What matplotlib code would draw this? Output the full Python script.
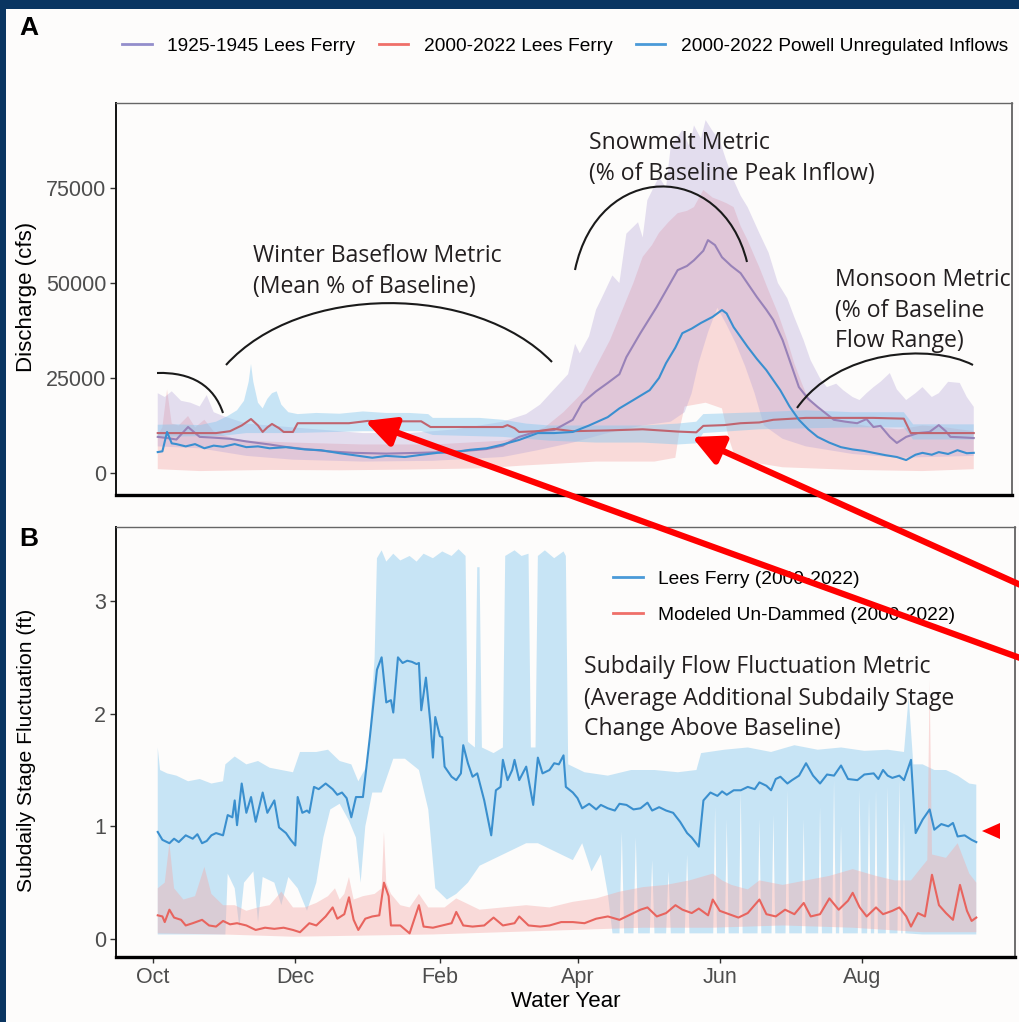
import numpy as np
import matplotlib
matplotlib.use("Agg")
import matplotlib.pyplot as plt
from matplotlib.lines import Line2D
from matplotlib.patches import PathPatch, FancyArrowPatch, Polygon, Rectangle
from matplotlib.path import Path

plt.rcParams['font.family'] = ['Liberation Sans', 'DejaVu Sans']

# ---------------- DATA (x = day of water year, 0 = Oct 1) ----------------
month_ticks = [0, 61, 123, 182, 243, 304]
month_labels = ['Oct', 'Dec', 'Feb', 'Apr', 'Jun', 'Aug']

# Panel A: 1925-1945 Lees Ferry mean (purple)
purple_d = [2, 6, 10, 15, 20, 26, 33, 40, 50, 57, 65, 75, 86, 100, 114, 130, 143, 150, 157, 165, 172, 180,
            184, 190, 195, 200, 203, 209, 216, 220, 225, 229, 232, 236, 238, 241, 244, 248, 252, 256, 259,
            263, 266, 270, 273, 277, 281, 285, 292, 297, 302, 306, 309, 312, 316, 319, 323, 328, 333, 337,
            340, 342, 346, 352]
purple_v = [9500, 9200, 8800, 12100, 9500, 9300, 9000, 8300, 7500, 6850, 6300, 5700, 5300, 5100, 5300, 5600,
            6300, 7200, 9500, 11000, 11300, 14000, 18400, 21500, 23700, 26000, 30500, 36800, 43700, 48000,
            53400, 54500, 56000, 58500, 61300, 60000, 56800, 54500, 52600, 49000, 46300, 43000, 40300, 35000,
            29700, 22600, 19500, 17400, 14000, 13500, 13100, 14200, 12100, 12400, 9500, 7900, 9500, 10500,
            10800, 12600, 11000, 9500, 9400, 9200]

# Panel A: 2000-2022 Lees Ferry mean (red)
red_d = [2, 27, 33, 38, 42, 45, 47, 49, 51, 54, 56, 60, 62, 70, 84, 92, 100, 115, 119, 130, 150, 152, 155,
         157, 165, 172, 180, 195, 210, 225, 233, 236, 245, 252, 260, 266, 280, 295, 309, 322, 325, 340, 352]
red_v = [10500, 10500, 11000, 12500, 14200, 12500, 10800, 12000, 12900, 11800, 10800, 10800, 13100, 13100,
         13100, 13700, 13600, 13600, 12100, 12100, 12100, 12600, 11800, 10800, 11000, 11600, 11000, 11200,
         11500, 10900, 10700, 12400, 12600, 13100, 13300, 14000, 14500, 14500, 14500, 14300, 10500, 10500,
         10500]

# Panel A: 2000-2022 Powell unregulated inflows mean (blue)
blue_d = [2, 4, 6, 8, 10, 14, 18, 22, 26, 30, 35, 40, 45, 50, 57, 65, 72, 80, 86, 94, 100, 108, 114, 122,
          129, 136, 143, 150, 157, 165, 172, 180, 187, 195, 200, 206, 213, 217, 220, 224, 227, 231, 235, 240,
          244, 246, 249, 255, 259, 263, 269, 273, 277, 281, 285, 290, 295, 300, 305, 309, 314, 319, 323, 327,
          330, 334, 337, 341, 345, 349, 352]
blue_v = [5500, 5700, 10800, 7800, 7600, 7000, 7600, 6500, 7200, 6900, 7600, 6800, 7000, 6500, 6800, 6200,
          6000, 5200, 4700, 4000, 4500, 4200, 4700, 5300, 5500, 6100, 6500, 7500, 8700, 10500, 10500, 10800,
          12500, 14700, 17000, 19200, 21800, 25000, 28900, 33000, 36800, 38000, 39500, 41100, 42900, 42000,
          38400, 33200, 30000, 27100, 21800, 17500, 14000, 11500, 9500, 8000, 6800, 6200, 5800, 5300, 4700,
          4200, 3400, 4800, 5300, 4800, 5500, 5000, 6000, 5200, 5300]

# Panel A ribbons
lav_hi_d = [2, 5, 8, 12, 16, 20, 23, 26, 30, 35, 40, 50, 60, 70, 80, 90, 100, 110, 120, 130, 140, 150, 160,
            166, 172, 178, 181, 183, 187, 190, 192, 197, 200, 203, 208, 210, 212, 217, 220, 222, 227, 230,
            232, 235, 237, 240, 243, 246, 249, 252, 255, 260, 264, 268, 272, 275, 279, 282, 286, 289, 293,
            296, 300, 303, 306, 309, 312, 316, 319, 323, 327, 330, 334, 337, 341, 346, 349, 352]
lav_hi_v = [21000, 20000, 21500, 19000, 18500, 17500, 20500, 16000, 15000, 14000, 13000, 12500, 12000,
            11500, 11000, 10500, 10500, 10500, 11000, 11500, 12500, 13500, 15500, 18000, 22000, 26000,
            34000, 31500, 36000, 43000, 45500, 52000, 50000, 63000, 66000, 62000, 71800, 78000, 75000,
            85800, 90300, 86000, 91500, 88000, 92900, 90000, 87600, 82000, 77100, 73000, 70000, 63200,
            58000, 50000, 46000, 41100, 35000, 29700, 25000, 22600, 23500, 21800, 20000, 19200, 21000,
            22600, 24000, 26300, 22000, 19200, 21000, 22600, 20000, 21000, 24000, 23700, 20000, 17400]
lav_lo_d = [2, 20, 40, 60, 90, 120, 150, 165, 180, 195, 210, 222, 228, 231, 234, 238, 242, 246, 250, 254,
            258, 262, 270, 280, 300, 320, 352]
lav_lo_v = [7000, 6500, 4500, 3500, 3000, 3200, 4200, 6000, 8000, 10500, 12500, 13500, 16000, 21000, 29000,
            37000, 43500, 39000, 34000, 28000, 21000, 12500, 9000, 7000, 5000, 4000, 4500]

pink_hi_d = [2, 4, 6, 8, 11, 15, 18, 22, 26, 30, 35, 40, 60, 90, 120, 150, 160, 168, 176, 184, 190, 196,
             203, 206, 210, 214, 217, 221, 225, 229, 232, 236, 240, 243, 246, 249, 252, 255, 258, 260, 264,
             268, 272, 275, 278, 280, 283, 286, 292, 300, 310, 320, 330, 340, 352]
pink_hi_v = [10000, 12000, 22000, 13000, 12500, 15000, 12000, 14000, 11000, 10000, 9000, 8500, 8000, 7500,
             7500, 8500, 10000, 12000, 16000, 21000, 28000, 35000, 45500, 50000, 56900, 60000, 63200, 66000,
             68400, 69000, 70000, 74500, 72500, 71800, 71000, 70000, 65000, 61300, 57000, 54200, 48000,
             42100, 35000, 28900, 24000, 21000, 18500, 16600, 14500, 13000, 12000, 11500, 12500, 12000, 11000]
pink_lo_d = [2, 20, 50, 80, 110, 140, 160, 190, 215, 224, 226, 228, 237, 244, 247, 250, 270, 300, 330, 352]
pink_lo_v = [1000, 500, 800, 700, 900, 1200, 2000, 3000, 3000, 4000, 12000, 17500, 18500, 17000, 9000, 3500,
             1500, 800, 500, 1000]

sky_hi_d = [2, 10, 20, 27, 32, 36, 39, 41, 42, 43, 45, 47, 49, 51, 53, 55, 58, 62, 70, 80, 90, 100, 110, 118,
            120, 140, 150, 160, 170, 190, 210, 225, 233, 236, 260, 280, 300, 322, 326, 352]
sky_hi_v = [12700, 12800, 12600, 13500, 15000, 16500, 19000, 24000, 28700, 24000, 18500, 17000, 19500,
            21000, 21500, 18000, 16000, 15500, 15800, 15600, 16200, 15800, 15800, 15500, 14500, 14500, 14000,
            13000, 12500, 12500, 12500, 13000, 13500, 15500, 16000, 16500, 16000, 16000, 12800, 12800]
sky_lo_d = [2, 30, 40, 60, 90, 115, 120, 150, 160, 170, 190, 210, 225, 233, 236, 260, 300, 322, 326, 352]
sky_lo_v = [9500, 9800, 10500, 10500, 11000, 11000, 10000, 9500, 9000, 8500, 8000, 8000, 7500, 7800, 10500,
            11500, 12000, 12000, 8800, 8800]

# Panel B: Lees Ferry (2000-2022) subdaily stage fluctuation (blue)
lf_d = [2, 4, 7, 9, 11, 14, 17, 19, 21, 23, 25, 27, 30, 32, 34, 35, 36, 38, 40, 42, 44, 47, 49, 52, 54, 57,
        59, 61, 62, 64, 66, 67, 69, 71, 74, 77, 79, 81, 83, 85, 87, 90, 93, 96, 98, 100, 102, 103, 105, 107,
        109, 111, 113, 114, 115, 117, 119, 120, 121, 123, 124, 125, 128, 130, 132, 133, 135, 137, 139, 142,
        145, 147, 149, 150, 152, 154, 155, 157, 160, 163, 165, 167, 170, 172, 174, 176, 177, 180, 182, 184,
        187, 190, 192, 195, 198, 200, 203, 206, 209, 212, 214, 217, 220, 223, 226, 229, 231, 234, 236, 239,
        242, 244, 246, 249, 252, 255, 258, 260, 263, 265, 267, 269, 272, 274, 277, 280, 283, 286, 289, 292,
        295, 298, 302, 305, 309, 311, 313, 315, 317, 320, 322, 325, 327, 330, 333, 335, 338, 341, 343, 345,
        348, 351, 353]
lf_v = [0.95, 0.88, 0.85, 0.89, 0.86, 0.92, 0.89, 0.93, 0.85, 0.87, 0.92, 0.94, 0.92, 1.10, 1.08, 1.23, 1.01,
        1.38, 1.12, 1.26, 1.04, 1.30, 1.12, 1.23, 0.99, 0.94, 0.88, 0.83, 1.26, 1.12, 1.14, 1.12, 1.35, 1.33,
        1.38, 1.33, 1.28, 1.30, 1.25, 1.08, 1.26, 1.26, 1.80, 2.39, 2.50, 2.10, 2.12, 2.01, 2.50, 2.45, 2.47,
        2.46, 2.44, 2.45, 2.03, 2.32, 1.90, 1.61, 1.97, 1.80, 1.79, 1.53, 1.44, 1.41, 1.47, 1.72, 1.56, 1.44,
        1.47, 1.23, 0.92, 1.32, 1.35, 1.59, 1.41, 1.50, 1.59, 1.41, 1.53, 1.19, 1.61, 1.47, 1.50, 1.56, 1.55,
        1.63, 1.35, 1.30, 1.25, 1.16, 1.20, 1.15, 1.19, 1.16, 1.14, 1.20, 1.19, 1.15, 1.16, 1.21, 1.14, 1.17,
        1.14, 1.12, 1.04, 0.94, 0.90, 0.82, 1.23, 1.30, 1.27, 1.31, 1.28, 1.32, 1.32, 1.35, 1.33, 1.39, 1.36,
        1.32, 1.42, 1.44, 1.38, 1.41, 1.45, 1.56, 1.45, 1.38, 1.46, 1.45, 1.54, 1.42, 1.41, 1.46, 1.47, 1.42,
        1.50, 1.45, 1.43, 1.45, 1.41, 1.59, 0.94, 1.06, 1.15, 0.97, 1.02, 1.00, 1.03, 0.91, 0.92, 0.88, 0.86]

# Panel B: modeled un-dammed (red)
ud_d = [2, 4, 5, 7, 9, 12, 14, 17, 21, 24, 27, 30, 33, 36, 40, 44, 48, 52, 56, 60, 63, 67, 70, 74, 77, 79,
        82, 84, 86, 88, 91, 94, 97, 99, 101, 102, 106, 110, 114, 116, 120, 124, 128, 130, 133, 137, 142, 146,
        150, 155, 157, 161, 166, 170, 175, 180, 185, 190, 195, 200, 205, 209, 212, 216, 220, 224, 227, 231,
        234, 238, 240, 243, 247, 251, 255, 260, 263, 267, 271, 275, 279, 282, 286, 290, 294, 298, 300, 303,
        306, 310, 313, 317, 320, 323, 325, 328, 331, 334, 337, 340, 343, 346, 349, 351, 353]
ud_v = [0.21, 0.20, 0.15, 0.26, 0.19, 0.17, 0.12, 0.14, 0.17, 0.12, 0.11, 0.16, 0.13, 0.14, 0.12, 0.08, 0.10,
        0.09, 0.10, 0.08, 0.06, 0.14, 0.12, 0.20, 0.28, 0.18, 0.22, 0.37, 0.17, 0.08, 0.18, 0.20, 0.21, 0.50,
        0.38, 0.12, 0.12, 0.05, 0.30, 0.11, 0.10, 0.12, 0.14, 0.24, 0.12, 0.11, 0.12, 0.19, 0.12, 0.14, 0.20,
        0.12, 0.11, 0.12, 0.15, 0.15, 0.14, 0.18, 0.20, 0.17, 0.22, 0.26, 0.28, 0.20, 0.23, 0.30, 0.26, 0.23,
        0.27, 0.21, 0.35, 0.25, 0.22, 0.19, 0.23, 0.35, 0.22, 0.20, 0.26, 0.22, 0.32, 0.20, 0.22, 0.36, 0.26,
        0.34, 0.41, 0.28, 0.20, 0.28, 0.22, 0.25, 0.28, 0.20, 0.11, 0.23, 0.20, 0.57, 0.30, 0.23, 0.17, 0.48,
        0.25, 0.16, 0.19]

# Panel B ribbons
lfband_hi_d = [2, 3, 6, 10, 15, 20, 25, 30, 31, 35, 40, 45, 50, 55, 60, 63, 70, 75, 80, 85, 88, 92, 95, 96,
               98, 100, 103, 106, 110, 113, 116, 120, 124, 128, 131, 134, 135, 138, 139, 140, 141, 146, 150,
               151, 155, 158, 161, 162, 164, 165, 168, 172, 176, 177, 178, 185, 195, 205, 215, 225, 233, 235,
               245, 255, 265, 275, 285, 295, 305, 315, 322, 324, 326, 330, 335, 340, 345, 350, 353]
lfband_hi_v = [1.70, 1.50, 1.47, 1.45, 1.40, 1.42, 1.38, 1.40, 1.55, 1.62, 1.55, 1.58, 1.52, 1.50, 1.48,
               1.66, 1.66, 1.68, 1.58, 1.55, 1.40, 1.55, 2.50, 3.38, 3.45, 3.35, 3.42, 3.36, 3.40, 3.35, 3.42,
               3.38, 3.44, 3.40, 3.46, 3.40, 1.75, 1.70, 3.30, 3.30, 1.70, 1.65, 1.70, 3.40, 3.45, 3.40, 3.42,
               1.70, 1.70, 3.40, 3.45, 3.38, 3.44, 3.40, 1.55, 1.48, 1.45, 1.50, 1.50, 1.48, 1.50, 1.65, 1.68,
               1.70, 1.66, 1.72, 1.68, 1.70, 1.67, 1.68, 1.66, 2.15, 1.55, 1.55, 1.50, 1.50, 1.45, 1.38, 1.37]
lfband_lo_d = [2, 31, 32, 35, 37, 39, 43, 45, 47, 52, 55, 58, 62, 66, 70, 73, 76, 80, 84, 87, 89, 91, 94, 98,
               103, 108, 114, 118, 121, 126, 130, 135, 140, 145, 150, 155, 160, 165, 170, 175, 180, 184, 188,
               192, 195, 197, 200, 201, 202, 206, 207, 208, 213, 214, 215, 220, 221, 222, 228, 229, 230,
               240.2, 241, 241.8, 245.2, 246, 246.8, 251.2, 252, 252.8, 259.2, 260, 260.8, 265.2, 266, 266.8,
               271.2, 272, 272.8, 278.2, 279, 279.8, 285.2, 286, 286.8, 291.2, 292, 292.8, 294.2, 295, 295.8,
               302.2, 303, 303.8, 306.2, 307, 307.8, 309.2, 310, 310.8, 314.2, 315, 315.8, 319.2, 320, 320.8,
               321.4, 322, 322.6, 330, 353]
lfband_lo_v = [0.04, 0.04, 0.58, 0.45, 0.10, 0.50, 0.60, 0.15, 0.55, 0.50, 0.30, 0.55, 0.45, 0.25, 0.50,
               0.90, 1.15, 1.20, 1.05, 0.90, 0.50, 1.00, 1.30, 1.30, 1.60, 1.60, 1.50, 1.15, 0.45, 0.35, 0.40,
               0.50, 0.65, 0.70, 0.75, 0.80, 0.85, 0.85, 0.80, 0.75, 0.70, 0.85, 0.60, 0.75, 0.40, 0.05, 0.05,
               0.95, 0.05, 0.05, 0.90, 0.05, 0.05, 0.70, 0.05, 0.05, 0.60, 0.05, 0.05, 0.75, 0.05,
               0.05, 1.17, 0.05, 0.05, 1.06, 0.05, 0.05, 1.32, 0.05, 0.05, 1.06, 0.05, 0.05, 1.10, 0.05,
               0.05, 1.32, 0.05, 0.05, 1.06, 0.05, 0.05, 1.17, 0.05, 0.05, 1.41, 0.05, 0.05, 1.00, 0.05,
               0.05, 1.32, 0.05, 0.05, 1.25, 0.05, 0.05, 1.32, 0.05, 0.05, 1.35, 0.05, 0.05, 1.41, 0.05,
               0.05, 1.06, 0.05, 0.04, 0.04]

udband_hi_d = [2, 5, 7, 9, 13, 18, 22, 25, 30, 35, 40, 45, 50, 55, 60, 65, 70, 75, 78, 80, 82, 84, 86, 90,
               95, 98, 99, 100, 102, 106, 110, 114, 118, 125, 130, 140, 150, 160, 170, 180, 190, 200, 210,
               220, 230, 240, 244, 248, 255, 260, 270, 280, 290, 300, 310, 318, 325, 330, 332, 333, 334, 340,
               345, 350, 353]
udband_hi_v = [0.45, 0.50, 0.85, 0.45, 0.35, 0.38, 0.64, 0.40, 0.30, 0.30, 0.25, 0.28, 0.30, 0.42, 0.28,
               0.28, 0.32, 0.38, 0.45, 0.35, 0.40, 0.55, 0.35, 0.38, 0.40, 0.45, 0.95, 0.50, 0.40, 0.30, 0.28,
               0.40, 0.28, 0.28, 0.36, 0.26, 0.28, 0.30, 0.28, 0.33, 0.36, 0.42, 0.46, 0.48, 0.52, 0.58, 0.52,
               0.48, 0.44, 0.52, 0.48, 0.52, 0.56, 0.62, 0.56, 0.52, 0.52, 0.65, 0.70, 2.30, 0.75, 0.72, 0.85,
               0.58, 0.50]
udband_lo_d = [2, 30, 60, 90, 120, 150, 180, 210, 240, 270, 300, 330, 353]
udband_lo_v = [0.05, 0.04, 0.02, 0.03, 0.04, 0.06, 0.08, 0.10, 0.10, 0.12, 0.10, 0.06, 0.06]

# ---------------- FIGURE ----------------
W, H = 1019, 1022
def fx(px):
    return px / W
def fy(py):
    return 1 - py / H

fig = plt.figure(figsize=(W / 100, H / 100), dpi=100, facecolor='#fdfcfb')
axA = fig.add_axes([fx(116), fy(495), (1012 - 116) / W, (495 - 103) / H])
axB = fig.add_axes([fx(116), fy(957), (1015 - 116) / W, (957 - 527) / H])
for ax in (axA, axB):
    ax.set_facecolor('#fdfcfb')

XLIM_A = (-15.9, 368.4)
XLIM_B = (-15.9, 369.6)

PINK = '#f5a8a6'
LAV = '#b09ed6'
SKY = '#87c8ee'

def band(ax, dhi, vhi, dlo, vlo, color, alpha, z):
    xs = np.r_[np.asarray(dhi, float), np.asarray(dlo, float)[::-1]]
    ys = np.r_[np.asarray(vhi, float), np.asarray(vlo, float)[::-1]]
    ax.fill(xs, ys, color=color, alpha=alpha, lw=0, zorder=z)

# Panel A
band(axA, pink_hi_d, pink_hi_v, pink_lo_d, pink_lo_v, PINK, 0.40, 1)
band(axA, lav_hi_d, lav_hi_v, lav_lo_d, lav_lo_v, LAV, 0.33, 2)
band(axA, sky_hi_d, sky_hi_v, sky_lo_d, sky_lo_v, SKY, 0.45, 3)
axA.plot(purple_d, purple_v, color='#9882b8', lw=1.5, zorder=5)
axA.plot(red_d, red_v, color='#c0646f', lw=1.5, zorder=5)
axA.plot(blue_d, blue_v, color='#3a8fd0', lw=1.5, zorder=6)
axA.set_xlim(*XLIM_A)
axA.set_ylim(-5800, 97400)
axA.set_yticks([0, 25000, 50000, 75000])
axA.set_yticklabels(['0', '25000', '50000', '75000'])
axA.set_xticks([])

# Panel B
band(axB, lfband_hi_d, lfband_hi_v, lfband_lo_d, lfband_lo_v, SKY, 0.45, 1)
band(axB, udband_hi_d, udband_hi_v, udband_lo_d, udband_lo_v, PINK, 0.40, 2)
axB.plot(lf_d, lf_v, color='#3a8fce', lw=1.5, zorder=5)
axB.plot(ud_d, ud_v, color='#e8645e', lw=1.5, zorder=5)
axB.set_xlim(*XLIM_B)
axB.set_ylim(-0.16, 3.657)
axB.set_yticks([0, 1, 2, 3])
axB.set_xticks(month_ticks)
axB.set_xticklabels(month_labels)

for ax in (axA, axB):
    ax.tick_params(axis='both', length=4, width=1, color='#333333', labelcolor='#4d4d4d',
                   labelsize=15.5, pad=3)
    ax.spines['left'].set_color('#111111')
    ax.spines['left'].set_linewidth(1.4)
    ax.spines['bottom'].set_color('#000000')
    ax.spines['bottom'].set_linewidth(2.4)
    ax.spines['top'].set_color('#666666')
    ax.spines['top'].set_linewidth(1.0)
    ax.spines['right'].set_color('#555555')
    ax.spines['right'].set_linewidth(1.2)

# axis titles
fig.text(fx(27), fy(297), 'Discharge (cfs)', rotation=90, ha='center', va='center', fontsize=16)
fig.text(fx(27), fy(750), 'Subdaily Stage Fluctuation (ft)', rotation=90, ha='center', va='center',
         fontsize=15.2)
fig.text(fx(566), fy(1001), 'Water Year', ha='center', va='center', fontsize=16)

# panel letters
fig.text(fx(19), fy(28), 'A', fontsize=19, fontweight='bold', ha='left', va='center')
fig.text(fx(19), fy(539), 'B', fontsize=19, fontweight='bold', ha='left', va='center')

# legends
hA = [Line2D([], [], color='#938ecb', lw=2), Line2D([], [], color='#ef6f69', lw=2),
      Line2D([], [], color='#4a9ad8', lw=2)]
fig.legend(hA, ['1925-1945 Lees Ferry', '2000-2022 Lees Ferry', '2000-2022 Powell Unregulated Inflows'],
           loc='center left', bbox_to_anchor=(fx(122), fy(46)), ncol=3, frameon=False, fontsize=13.8,
           handlelength=1.55, handletextpad=0.82, columnspacing=1.2, borderpad=0, borderaxespad=0)
hB = [Line2D([], [], color='#4a9ad8', lw=2), Line2D([], [], color='#ef6f69', lw=2)]
axB.legend(hB, ['Lees Ferry (2000-2022)', 'Modeled Un-Dammed (2000-2022)'], loc='center left',
           bbox_to_anchor=(fx(613), fy(597)), bbox_transform=fig.transFigure, frameon=False,
           fontsize=13.8, handlelength=1.55, handletextpad=0.82, labelspacing=0.95, borderpad=0,
           borderaxespad=0)

# metric annotations
afont = dict(family=['Open Sans', 'DejaVu Sans'], fontsize=16.6, color='#231f20', ha='left', va='baseline')
for txt, x, y in [('Winter Baseflow Metric', 253, 262), ('(Mean % of Baseline)', 253, 293),
                  ('Snowmelt Metric', 589, 149), ('(% of Baseline Peak Inflow)', 589, 180),
                  ('Monsoon Metric', 835, 286), ('(% of Baseline', 835, 317), ('Flow Range)', 835, 347),
                  ('Subdaily Flow Fluctuation Metric', 584, 673),
                  ('(Average Additional Subdaily Stage', 584, 705), ('Change Above Baseline)', 584, 735)]:
    fig.text(fx(x), fy(y), txt, **afont)

def arc(pts):
    verts = [(fx(a), fy(b)) for a, b in pts]
    p = Path(verts, [Path.MOVETO, Path.CURVE4, Path.CURVE4, Path.CURVE4])
    fig.add_artist(PathPatch(p, transform=fig.transFigure, fc='none', ec='#1a1a1a', lw=1.5, zorder=20))

arc([(157, 373), (192, 372), (214, 386), (223, 413)])
arc([(226, 365), (300, 283), (475, 283), (552, 362)])
arc([(575, 270), (598, 160), (722, 160), (747, 262)])
arc([(797, 408), (838, 350), (930, 343), (973, 365)])

# red arrows
for tail, head in [((1045, 667), (365, 421)), ((1045, 596), (692, 437))]:
    fig.add_artist(FancyArrowPatch((fx(tail[0]), fy(tail[1])), (fx(head[0]), fy(head[1])),
                                   transform=fig.transFigure, arrowstyle='-|>,head_length=1.0,head_width=0.5',
                                   mutation_scale=18, lw=4.5, color='#ff0000', shrinkA=0, shrinkB=0,
                                   zorder=30))
fig.add_artist(Polygon([[fx(982), fy(831)], [fx(1000), fy(823)], [fx(1000), fy(839)]],
                       transform=fig.transFigure, color='#ff0000', lw=0, zorder=30))

# navy frame of the screenshot
navy = '#0a3561'
fig.add_artist(Rectangle((0, 0), fx(6), 1, transform=fig.transFigure, color=navy, lw=0, zorder=40))
fig.add_artist(Rectangle((0, fy(9)), 1, 9 / H, transform=fig.transFigure, color=navy, lw=0, zorder=40))

fig.savefig('out.png', dpi=100, facecolor=fig.get_facecolor())
